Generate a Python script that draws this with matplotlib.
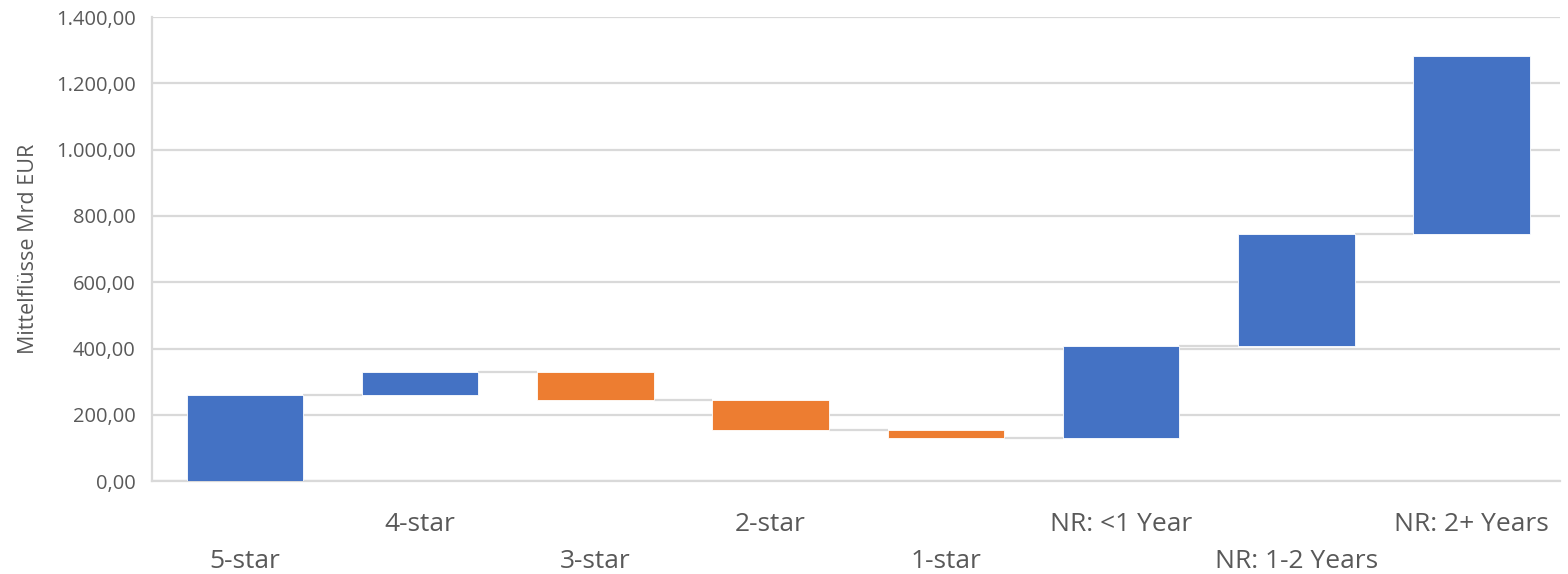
import matplotlib
matplotlib.use("Agg")
import matplotlib.pyplot as plt
from matplotlib.ticker import FuncFormatter

categories = ["5-star", "4-star", "3-star", "2-star", "1-star",
              "NR: <1 Year", "NR: 1-2 Years", "NR: 2+ Years"]
deltas = [259, 70, -84, -91, -23, 277, 337, 537]
y_ticks = [0, 200, 400, 600, 800, 1000, 1200, 1400]
y_label = "Mittelflüsse Mrd EUR"

BLUE = "#4472C4"
ORANGE = "#ED7D31"
GRID = "#D9D9D9"
TXT = "#595959"

plt.rcParams['font.family'] = ['Open Sans', 'DejaVu Sans']

fig = plt.figure(figsize=(15.68, 5.74), dpi=100)
ax = fig.add_axes([0.097, 0.162, 0.898, 0.808])

starts = []
ends = []
cur = 0
for d in deltas:
    starts.append(cur)
    cur += d
    ends.append(cur)

x = list(range(len(categories)))
width = 0.665
for i, (s, e, d) in enumerate(zip(starts, ends, deltas)):
    color = BLUE if d >= 0 else ORANGE
    ax.bar(i, e - s, bottom=s, width=width, color=color,
           edgecolor="#FFFFFF", linewidth=0.6, zorder=3)

# connectors
for i in range(len(categories) - 1):
    ax.plot([i + width / 2, i + 1 - width / 2], [ends[i], ends[i]],
            color=GRID, linewidth=1.6, zorder=2, solid_capstyle='butt')

ax.set_xlim(-0.53, len(categories) - 0.494)
ax.set_ylim(0, 1400)
ax.set_yticks(y_ticks)
ax.yaxis.set_major_formatter(FuncFormatter(
    lambda v, p: f"{v:,.2f}".replace(",", "X").replace(".", ",").replace("X", ".")))
ax.grid(axis='y', color=GRID, linewidth=1.6, zorder=0)
ax.set_axisbelow(True)

ax.set_xticks(x)
labels = [("\n" + c if i % 2 == 0 else c) for i, c in enumerate(categories)]
ax.set_xticklabels(labels)
for t in ax.get_xticklabels():
    t.set_linespacing(1.63)

ax.tick_params(axis='x', length=0, pad=22, labelsize=19, labelcolor=TXT)
ax.tick_params(axis='y', length=0, pad=12, labelsize=14.5, labelcolor=TXT)

for side in ['top', 'right']:
    ax.spines[side].set_visible(False)
for side in ['left', 'bottom']:
    ax.spines[side].set_color(GRID)
    ax.spines[side].set_linewidth(1.6)

ax.set_ylabel(y_label, fontsize=15.5, color=TXT, labelpad=12)

fig.savefig("out.png", dpi=100, facecolor="white")
